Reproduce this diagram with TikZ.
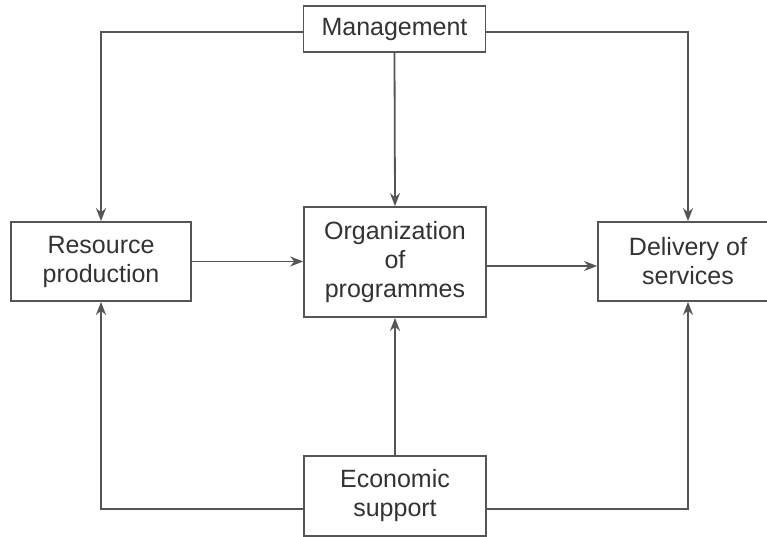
\documentclass[tikz,border=0pt]{standalone}
\usepackage{fontspec}
\setmainfont{Liberation Sans}
\usetikzlibrary{arrows.meta}
\definecolor{linegray}{HTML}{555555}
\definecolor{textgray}{HTML}{333333}
\begin{document}
\begin{tikzpicture}[x=1pt,y=-1pt,
  box/.style={draw=linegray, line width=1.8pt, fill=white, align=center,
    text=textgray, inner sep=0pt, font=\fontsize{25}{29}\selectfont},
  conn/.style={draw=linegray, line width=1.8pt},
  arr/.style={conn, -{Stealth[length=13pt,width=10pt]}}]
\clip (0,0) rectangle (767,537);
\fill[white] (0,0) rectangle (767,537);
\node[box, minimum width=182pt, minimum height=46pt] (mg) at (394.5,29) {Management};
\node[box, minimum width=180pt, minimum height=79pt] (res) at (101,261.5) {Resource\\production};
\node[box, minimum width=182pt, minimum height=110pt] (org) at (395,262) {Organization\\of\\programmes};
\node[box, minimum width=180pt, minimum height=79pt] (del) at (688,261.5) {Delivery of\\services};
\node[box, minimum width=182pt, minimum height=80pt] (eco) at (395,496) {Economic\\support};
\coordinate (orgout) at ([yshift=-4pt]org.east);
% top connectors
\draw[arr] ([yshift=-3pt]mg.west) -| (res.north);
\draw[arr] ([yshift=-3pt]mg.east) -| (del.north);
\draw[arr] (mg.south) -- (org.north);
% bottom connectors
\draw[arr] ([yshift=-13pt]eco.west) -| (res.south);
\draw[arr] ([yshift=-13pt]eco.east) -| (del.south);
\draw[arr] (eco.north) -- (org.south);
% horizontal connectors
\draw[arr] (res.east) -- (org.west |- res.east);
\draw[arr] (orgout) -- (del.west |- orgout);
\end{tikzpicture}
\end{document}
